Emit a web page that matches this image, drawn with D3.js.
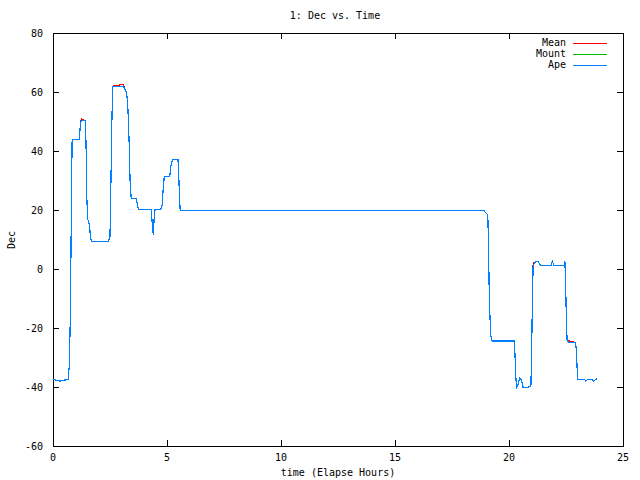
<!DOCTYPE html>
<html><head><meta charset="utf-8">
<script src="https://cdn.jsdelivr.net/npm/d3@7"></script>
<style>body{margin:0;background:#fff}text{font-family:"DejaVu Sans Mono",monospace;font-size:10px}</style>
</head><body><div id="chart"></div>
<script>
// elapsed hours and Dec readings (Ape track; Mean and Mount follow it almost exactly)
const timeHours = [0,0.3,0.67,0.72,0.77,0.81,0.84,1.15,1.2,1.24,1.42,1.45,1.48,1.52,1.6,1.64,1.69,2.43,2.5,2.53,2.58,2.62,3.08,3.15,3.2,3.27,3.3,3.34,3.38,3.43,3.66,3.7,3.75,4.31,4.36,4.4,4.44,4.48,4.73,4.79,4.83,4.88,5.12,5.18,5.24,5.48,5.51,5.55,5.58,
  18.9,19.0,19.07,19.1,19.14,19.2,19.26,20.23,20.26,20.3,20.33,20.42,20.46,20.55,20.62,20.84,20.88,20.96,20.99,21.03,21.06,21.17,21.27,21.38,21.84,21.9,21.98,22.42,22.45,22.48,22.52,22.55,22.66,22.92,22.96,22.99,23.02,23.31,23.37,23.46,23.65,23.71,23.77,23.87];
const apeDec = [-37.4,-38,-37.4,-31.9,-11.5,25.8,44,44,48.8,50.3,50.3,42,25,17,15,11,9.2,9.2,11,24.2,49.5,62,62,61,60.2,57.3,51.6,42.6,30,24,24,21.7,20.3,20.3,14.3,11.5,17.7,20.3,20.3,21.7,26.8,31.3,31.3,35.3,37.2,37.2,33,24,19.8,
  19.8,18.9,18.3,8.7,-11.6,-22.4,-24.4,-24.4,-28.6,-36.5,-40.5,-38.6,-36.8,-37.6,-40.2,-40.2,-39.7,-39.7,-29.2,-8.8,1.4,2.4,2.7,1.2,1.2,2.6,1.2,1.2,2.7,-3.7,-17.9,-24.3,-25,-25,-28,-34.2,-37.4,-37.4,-38,-37.4,-37.4,-38,-37.6,-37.2];
const meanDec = apeDec.map((v, i) => (i === 9 || i === 22 || i === 69 || i === 81) ? v + 0.6 : v);
const mountDec = apeDec;
const seriesNames = ["Mean", "Mount", "Ape"];
const seriesColors = ["#ff0000", "#00c000", "#0080ff"];
const xTicks = [0, 5, 10, 15, 20, 25];
const yTicks = [-60, -40, -20, 0, 20, 40, 60, 80];

const W = 640, H = 480;
const m = { top: 33, right: 17, bottom: 34, left: 53 };
const svg = d3.select("#chart").append("svg").attr("width", W).attr("height", H)
  .attr("shape-rendering", "crispEdges");

const x = d3.scaleLinear().domain([0, 25]).range([m.left, W - m.right]);
const y = d3.scaleLinear().domain([-60, 80]).range([H - m.bottom, m.top]);

// frame with mirrored inward ticks
svg.append("rect").attr("x", m.left).attr("y", m.top)
  .attr("width", W - m.left - m.right).attr("height", H - m.top - m.bottom)
  .attr("fill", "none").attr("stroke", "#000");

const tl = 6;
xTicks.forEach(t => {
  svg.append("line").attr("x1", x(t)).attr("x2", x(t)).attr("y1", y(-60)).attr("y2", y(-60) - tl).attr("stroke", "#000");
  svg.append("line").attr("x1", x(t)).attr("x2", x(t)).attr("y1", y(80)).attr("y2", y(80) + tl).attr("stroke", "#000");
  svg.append("text").attr("x", x(t)).attr("y", y(-60) + 15).attr("text-anchor", "middle").text(t);
});
yTicks.forEach(t => {
  svg.append("line").attr("x1", x(0)).attr("x2", x(0) + tl).attr("y1", y(t)).attr("y2", y(t)).attr("stroke", "#000");
  svg.append("line").attr("x1", x(25)).attr("x2", x(25) - tl).attr("y1", y(t)).attr("y2", y(t)).attr("stroke", "#000");
  svg.append("text").attr("x", x(0) - 10).attr("y", y(t) + 4).attr("text-anchor", "end").text(t);
});

svg.append("text").attr("x", 335).attr("y", 19).attr("text-anchor", "middle").text("1: Dec vs. Time");
svg.append("text").attr("x", 338).attr("y", 476).attr("text-anchor", "middle").text("time (Elapse Hours)");
svg.append("text").attr("transform", "translate(15,240) rotate(-90)").attr("text-anchor", "middle").text("Dec");

const line = d3.line().x(d => x(d[0])).y(d => y(d[1]));
[meanDec, mountDec, apeDec].forEach((vals, i) => {
  svg.append("path").datum(timeHours.map((t, j) => [t, vals[j]]))
    .attr("d", line).attr("fill", "none").attr("stroke", seriesColors[i]).attr("stroke-width", 1.2);
});

// legend
seriesNames.forEach((n, i) => {
  const ly = 43 + i * 11;
  svg.append("text").attr("x", 566).attr("y", ly + 3).attr("text-anchor", "end").text(n);
  svg.append("line").attr("x1", 573).attr("x2", 607).attr("y1", ly).attr("y2", ly).attr("stroke", seriesColors[i]);
});
</script></body></html>
